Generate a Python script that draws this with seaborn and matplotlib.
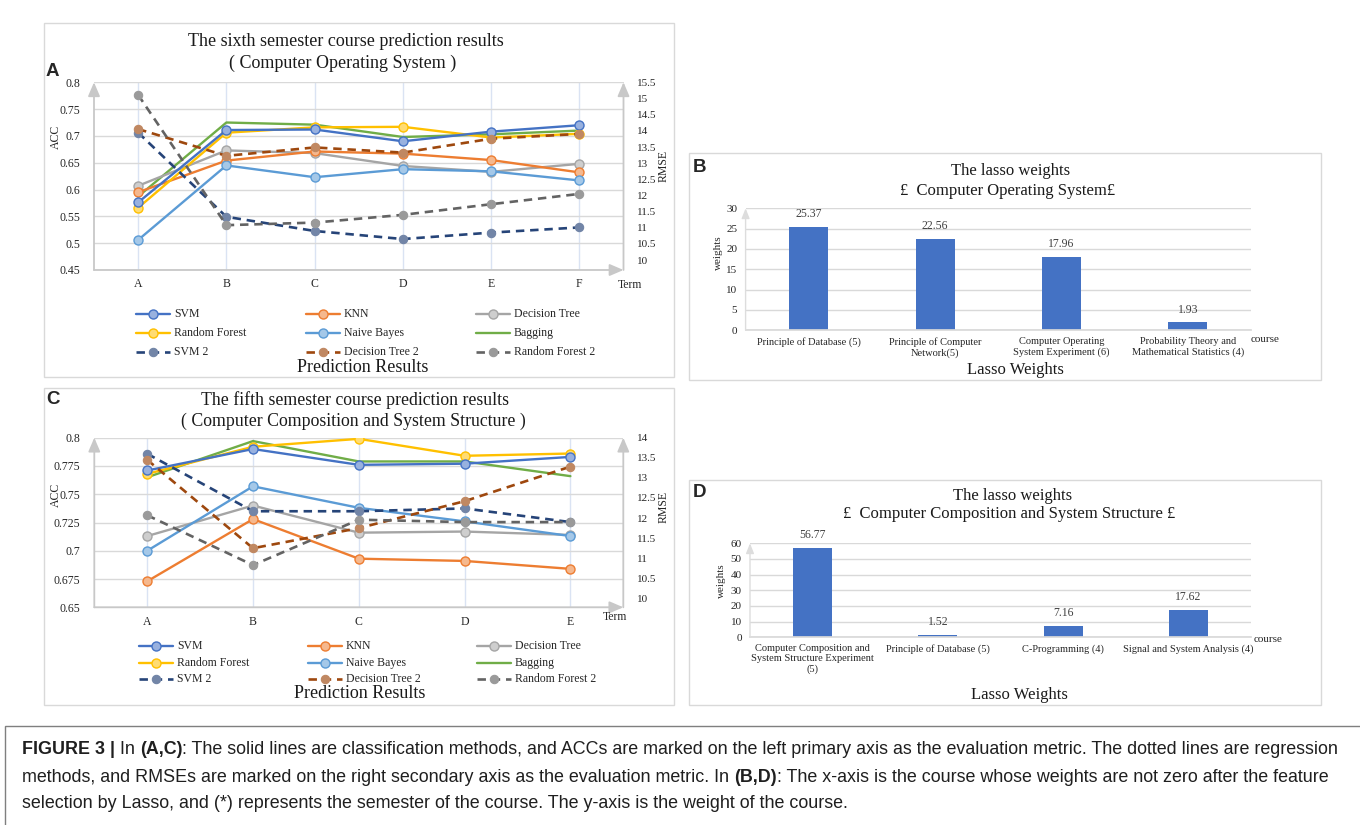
import numpy as np
import matplotlib
matplotlib.use("Agg")
import matplotlib.pyplot as plt
import seaborn as sns
from matplotlib import font_manager
from matplotlib.lines import Line2D
from matplotlib.patches import Rectangle
import matplotlib.colors as mcolors

# ---------------- data ----------------
terms_a = ["A", "B", "C", "D", "E", "F"]
svm_a = [0.576, 0.711, 0.712, 0.690, 0.708, 0.720]
knn_a = [0.595, 0.654, 0.671, 0.667, 0.655, 0.632]
dtree_a = [0.607, 0.673, 0.668, 0.644, 0.633, 0.648]
rforest_a = [0.566, 0.706, 0.716, 0.717, 0.697, 0.704]
nbayes_a = [0.506, 0.645, 0.623, 0.638, 0.634, 0.617]
bagging_a = [0.587, 0.725, 0.721, 0.698, 0.703, 0.710]
svm2_a = [13.95, 11.34, 10.90, 10.65, 10.85, 11.01]
dtree2_a = [14.06, 13.23, 13.49, 13.33, 13.76, 13.91]
rforest2_a = [15.12, 11.08, 11.16, 11.40, 11.73, 12.05]
acc_ticks_a = [0.45, 0.5, 0.55, 0.6, 0.65, 0.7, 0.75, 0.8]
acc_labels_a = ["0.45", "0.5", "0.55", "0.6", "0.65", "0.7", "0.75", "0.8"]
rmse_ticks_a = [10, 10.5, 11, 11.5, 12, 12.5, 13, 13.5, 14, 14.5, 15, 15.5]
rmse_labels_a = ["10", "10.5", "11", "11.5", "12", "12.5", "13", "13.5", "14", "14.5", "15", "15.5"]

terms_c = ["A", "B", "C", "D", "E"]
svm_c = [0.771, 0.790, 0.776, 0.777, 0.783]
knn_c = [0.673, 0.728, 0.693, 0.691, 0.684]
dtree_c = [0.713, 0.740, 0.716, 0.717, 0.714]
rforest_c = [0.768, 0.792, 0.799, 0.784, 0.786]
nbayes_c = [0.700, 0.757, 0.738, 0.726, 0.713]
bagging_c = [0.765, 0.797, 0.779, 0.779, 0.766]
svm2_c = [13.60, 12.17, 12.17, 12.24, 11.90]
dtree2_c = [13.45, 11.25, 11.75, 12.42, 13.28]
rforest2_c = [12.07, 10.83, 11.96, 11.90, 11.90]
acc_ticks_c = [0.65, 0.675, 0.7, 0.725, 0.75, 0.775, 0.8]
acc_labels_c = ["0.65", "0.675", "0.7", "0.725", "0.75", "0.775", "0.8"]
rmse_ticks_c = [10, 10.5, 11, 11.5, 12, 12.5, 13, 13.5, 14]
rmse_labels_c = ["10", "10.5", "11", "11.5", "12", "12.5", "13", "13.5", "14"]

courses_b = ["Principle of Database (5)", "Principle of Computer\nNetwork(5)",
             "Computer Operating\nSystem Experiment (6)",
             "Probability Theory and\nMathematical Statistics (4)"]
weights_b = [25.37, 22.56, 17.96, 1.93]
wticks_b = [0, 5, 10, 15, 20, 25, 30]

courses_d = ["Computer Composition and\nSystem Structure Experiment\n(5)",
             "Principle of Database (5)", "C-Programming (4)",
             "Signal and System Analysis (4)"]
weights_d = [56.77, 1.52, 7.16, 17.62]
wticks_d = [0, 10, 20, 30, 40, 50, 60]

series_names = ["SVM", "KNN", "Decision Tree", "Random Forest", "Naive Bayes",
                "Bagging", "SVM 2", "Decision Tree 2", "Random Forest 2"]

# ---------------- style ----------------
sns.set_theme(style="white")
plt.rcParams["font.family"] = ["Liberation Serif", "DejaVu Serif"]
plt.rcParams["axes.unicode_minus"] = False

COL = {"SVM": "#4472C4", "KNN": "#ED7D31", "Decision Tree": "#A5A5A5",
       "Random Forest": "#FFC000", "Naive Bayes": "#5B9BD5", "Bagging": "#70AD47",
       "SVM 2": "#264478", "Decision Tree 2": "#9E480E", "Random Forest 2": "#636363"}
HAS_MARK = {"Bagging": False}
DASHED = {"SVM 2", "Decision Tree 2", "Random Forest 2"}
GRID = "#D9D9D9"
VGRID = "#DAE3F3"
AXC = "#C8C8C8"

W, H = 1360, 825
fig = plt.figure(figsize=(W / 100, H / 100), dpi=100)
fig.patch.set_facecolor("white")


def fxy(x, y):
    return x / W, 1 - y / H


def add_axes_px(l, t, r, b):
    return fig.add_axes([l / W, 1 - b / H, (r - l) / W, (b - t) / H])


def lighten(c, amt=0.45):
    rgb = np.array(mcolors.to_rgb(c))
    return tuple(rgb + (1 - rgb) * amt)


def ftext(x, y, s, **kw):
    kw.setdefault("ha", "center")
    kw.setdefault("va", "center")
    return fig.text(*fxy(x, y), s, **kw)


def box(l, t, r, b, color="#D9D9D9", lw=1.0):
    fig.add_artist(Rectangle(fxy(l, b), (r - l) / W, (b - t) / H, transform=fig.transFigure,
                             fill=False, edgecolor=color, linewidth=lw))


def line_style(name):
    col = COL[name]
    if name in DASHED:
        return dict(color=col, linewidth=1.9, linestyle=(0, (3.2, 2.2)), marker="o",
                    markersize=6, markerfacecolor=lighten(col, 0.35),
                    markeredgecolor=lighten(col, 0.35), markeredgewidth=0.8)
    kw = dict(color=col, linewidth=1.7, linestyle="-")
    if HAS_MARK.get(name, True):
        kw.update(marker="o", markersize=6.5, markerfacecolor=lighten(col, 0.45),
                  markeredgecolor=col, markeredgewidth=1.0)
    return kw


def axis_arrows(ax, right=False):
    akw = dict(arrowstyle="-|>,head_length=0.7,head_width=0.3", color=AXC, lw=1.3,
               shrinkA=0, shrinkB=0)
    ax.annotate("", xy=(0, 1.0), xytext=(0, 0), xycoords="axes fraction",
                arrowprops=akw, annotation_clip=False)
    ax.annotate("", xy=(1.0, 0), xytext=(0, 0), xycoords="axes fraction",
                arrowprops=akw, annotation_clip=False)
    if right:
        ax.annotate("", xy=(1.0, 1.0), xytext=(1.0, 0), xycoords="axes fraction",
                    arrowprops=akw, annotation_clip=False)


def line_panel(px, terms, solid, dashed, acc_ticks, acc_labels, rmse_lim, rmse_ticks, rmse_labels):
    l, t, r, b = px
    ax = add_axes_px(l, t, r, b)
    ax2 = ax.twinx()
    x = np.arange(len(terms))
    for name, vals in solid:
        sns.lineplot(x=x, y=vals, ax=ax, zorder=3, **line_style(name))
    for name, vals in dashed:
        sns.lineplot(x=x, y=vals, ax=ax2, zorder=3, **line_style(name))
    ax.set_xlim(-0.5, len(terms) - 0.5)
    ax.set_ylim(acc_ticks[0], acc_ticks[-1])
    ax.set_yticks(acc_ticks, acc_labels)
    ax.set_xticks(x, terms)
    ax2.set_ylim(*rmse_lim)
    ax2.set_yticks(rmse_ticks, rmse_labels)
    ax.yaxis.grid(True, color=GRID, lw=1.0)
    ax.xaxis.grid(True, color=VGRID, lw=1.0)
    ax.set_axisbelow(True)
    ax2.grid(False)
    for a in (ax, ax2):
        for s in a.spines.values():
            s.set_visible(False)
        a.set_xlabel("")
        a.set_ylabel("")
    ax.tick_params(axis="y", length=0, pad=10, labelsize=8.5, labelcolor="#262626")
    ax.tick_params(axis="x", length=0, pad=6, labelsize=8.5, labelcolor="#262626")
    ax2.tick_params(axis="y", length=0, pad=10, labelsize=8, labelcolor="#262626")
    axis_arrows(ax, right=True)
    return ax, ax2


def manual_legend(col_x, row_y, names_grid):
    for ri, row in enumerate(names_grid):
        for ci, name in enumerate(row):
            hx = col_x[ci]
            y = row_y[ri]
            st = line_style(name)
            mk = {k: st.pop(k) for k in list(st) if k.startswith("marker")}
            fig.add_artist(Line2D([hx / W, (hx + 34) / W], [1 - y / H, 1 - y / H],
                                  transform=fig.transFigure, **st))
            if mk:
                fig.add_artist(Line2D([(hx + 17) / W], [1 - y / H], transform=fig.transFigure,
                                      linestyle="none", **mk))
            ftext(hx + 38, y, name, ha="left", fontsize=8.5, color="#262626")


def bar_panel(px, courses, weights, wticks, xfs):
    l, t, r, b = px
    ax = add_axes_px(l, t, r, b)
    sns.barplot(x=courses, y=weights, ax=ax, color="#4472C4", saturation=1,
                width=0.31, edgecolor="none")
    ax.set_xlim(-0.5, len(courses) - 0.5)
    ax.set_ylim(wticks[0], wticks[-1])
    ax.set_yticks(wticks)
    ax.yaxis.grid(True, color=GRID, lw=1.0)
    ax.xaxis.grid(False)
    ax.set_axisbelow(True)
    for s in ax.spines.values():
        s.set_visible(False)
    ax.spines["bottom"].set_visible(True)
    ax.spines["bottom"].set_color(GRID)
    ax.set_xlabel("")
    ax.set_ylabel("")
    ax.tick_params(axis="y", length=0, pad=6, labelsize=8, labelcolor="#262626")
    ax.tick_params(axis="x", length=0, pad=5, labelsize=xfs, labelcolor="#262626")
    for lab in ax.get_xticklabels():
        lab.set_multialignment("center")
        lab.set_linespacing(1.15)
    for cont in ax.containers:
        ax.bar_label(cont, labels=[f"{v:.2f}" for v in weights], padding=5,
                     fontsize=8.5, color="#404040")
    ax.annotate("", xy=(0, 1.0), xytext=(0, 0), xycoords="axes fraction",
                arrowprops=dict(arrowstyle="-|>,head_length=0.5,head_width=0.2", color="#DDDDDD",
                                lw=1.0, shrinkA=0, shrinkB=0), annotation_clip=False)
    return ax


# ---------------- panel boxes ----------------
box(44, 23, 674, 377)
box(44, 388, 674, 705)
box(689, 153, 1321, 380)
box(689, 480, 1321, 705)
box(5, 726, 1362, 832, color="#7F7F7F", lw=1.0)

# ---------------- panel A ----------------
line_panel((94, 82.3, 623.5, 270), terms_a,
           [("Bagging", bagging_a), ("Decision Tree", dtree_a), ("KNN", knn_a),
            ("Naive Bayes", nbayes_a), ("Random Forest", rforest_a), ("SVM", svm_a)],
           [("SVM 2", svm2_a), ("Decision Tree 2", dtree2_a), ("Random Forest 2", rforest2_a)],
           acc_ticks_a, acc_labels_a, (9.69, 15.51), rmse_ticks_a, rmse_labels_a)
ftext(346, 42, "The sixth semester course prediction results", fontsize=13, color="#1a1a1a")
ftext(343, 63.5, "( Computer Operating System )", fontsize=13, color="#1a1a1a")
ftext(46, 72, "A", ha="left", fontsize=13.5, weight="bold", family="Liberation Sans")
ftext(56, 137, "ACC", rotation=90, fontsize=8.5, color="#262626")
ftext(664, 166, "RMSE", rotation=90, fontsize=8.5, color="#262626")
ftext(630, 285, "Term", fontsize=8.5, color="#262626")
grid_names = [["SVM", "KNN", "Decision Tree"], ["Random Forest", "Naive Bayes", "Bagging"],
              ["SVM 2", "Decision Tree 2", "Random Forest 2"]]
manual_legend([136, 306, 476], [314, 333, 352], grid_names)
ftext(363, 368, "Prediction Results", fontsize=13, color="#1a1a1a")

# ---------------- panel C ----------------
line_panel((94.3, 437.7, 623.3, 607.3), terms_c,
           [("Bagging", bagging_c), ("Decision Tree", dtree_c), ("KNN", knn_c),
            ("Naive Bayes", nbayes_c), ("Random Forest", rforest_c), ("SVM", svm_c)],
           [("SVM 2", svm2_c), ("Decision Tree 2", dtree2_c), ("Random Forest 2", rforest2_c)],
           acc_ticks_c, acc_labels_c, (9.78, 14.0), rmse_ticks_c, rmse_labels_c)
ftext(355, 400, "The fifth semester course prediction results", fontsize=12.8, color="#1a1a1a")
ftext(353, 421, "( Computer Composition and System Structure )", fontsize=12.8, color="#1a1a1a")
ftext(46, 400, "C", ha="left", fontsize=13.5, weight="bold", family="Liberation Sans")
ftext(56, 495, "ACC", rotation=90, fontsize=8.5, color="#262626")
ftext(664, 507, "RMSE", rotation=90, fontsize=8.5, color="#262626")
ftext(615, 617, "Term", fontsize=8.5, color="#262626")
manual_legend([139, 308, 477], [646, 663, 679], grid_names)
ftext(360, 694, "Prediction Results", fontsize=13, color="#1a1a1a")

# ---------------- panel B ----------------
bar_panel((745.6, 208.3, 1251, 330.3), courses_b, weights_b, wticks_b, 7.5)
ftext(693, 167, "B", ha="left", fontsize=13.5, weight="bold", family="Liberation Sans")
ftext(1011, 171, "The lasso weights", fontsize=12, color="#1a1a1a")
ftext(1008, 191, "£  Computer Operating System£", fontsize=12, color="#1a1a1a")
ftext(718, 253, "weights", rotation=90, fontsize=8, color="#262626")
ftext(1265, 340, "course", fontsize=8, color="#262626")
ftext(1015, 370, "Lasso Weights", fontsize=12, color="#1a1a1a")

# ---------------- panel D ----------------
bar_panel((750, 543.3, 1251, 637.3), courses_d, weights_d, wticks_d, 7.5)
ftext(693, 493, "D", ha="left", fontsize=13.5, weight="bold", family="Liberation Sans")
ftext(1013, 496, "The lasso weights", fontsize=12, color="#1a1a1a")
ftext(1009, 514, "£  Computer Composition and System Structure £", fontsize=12, color="#1a1a1a")
ftext(721, 581, "weights", rotation=90, fontsize=8, color="#262626")
ftext(1268, 640, "course", fontsize=8, color="#262626")
ftext(1019, 695, "Lasso Weights", fontsize=12, color="#1a1a1a")

# ---------------- caption ----------------
names = {f.name for f in font_manager.fontManager.ttflist}
cap_family = "Liberation Sans Narrow" if "Liberation Sans Narrow" in names else "Liberation Sans"
cap_lines = [
    [("FIGURE 3 |", True), (" In ", False), ("(A,C)", True),
     (": The solid lines are classification methods, and ACCs are marked on the left primary axis "
      "as the evaluation metric. The dotted lines are regression", False)],
    [("methods, and RMSEs are marked on the right secondary axis as the evaluation metric. In ", False),
     ("(B,D)", True),
     (": The x-axis is the course whose weights are not zero after the feature", False)],
    [("selection by Lasso, and (*) represents the semester of the course. The y-axis is the "
      "weight of the course.", False)],
]
cap_y = [749, 777, 804]
renderer = fig.canvas.get_renderer()


def seg_width(s, bold, fs):
    t = fig.text(0, 0, s, fontsize=fs, family=cap_family, weight="bold" if bold else "normal")
    w = t.get_window_extent(renderer).width
    t.remove()
    return w


base = 10.0
w0 = sum(seg_width(s, b, base) for s, b in cap_lines[0])
cap_fs = base * 1318 / w0
for segs, y in zip(cap_lines, cap_y):
    x = 22
    for s, bold in segs:
        t = ftext(x, y, s, ha="left", fontsize=cap_fs, family=cap_family,
                  weight="bold" if bold else "normal", color="#1f1f1f")
        x += t.get_window_extent(renderer).width

fig.savefig("out.png", dpi=100)
